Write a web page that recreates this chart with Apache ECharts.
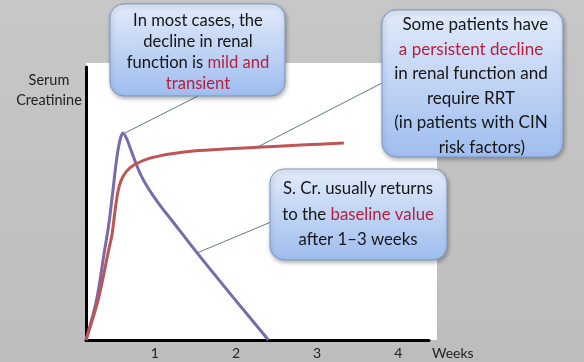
<!DOCTYPE html>
<html><head><meta charset="utf-8">
<script src="https://cdn.jsdelivr.net/npm/echarts@6/dist/echarts.min.js"></script>
<style>html,body{margin:0;padding:0;background:#c2c2c2}#main{width:584px;height:362px}</style>
</head><body><div id="main"></div>
<script>
// ---- data (weeks vs. relative serum creatinine) ----
const xTickLabels = [1, 2, 3, 4];
const transientWeeks = [0.15, 0.28, 0.38, 0.43, 0.48, 0.53, 0.57, 0.605, 0.654, 0.704, 0.765, 0.827, 0.901, 0.988, 1.086, 1.185, 1.52, 1.96, 2.40];
const transientCreat = [0, 14.7, 33.0, 42.1, 54.2, 66.7, 73.3, 75.8, 73.6, 69.6, 64.8, 60.4, 56.4, 52.4, 48.4, 44.7, 31.9, 15.8, 0];
const persistentWeeks = [0.15, 0.30, 0.43, 0.47, 0.506, 0.543, 0.58, 0.642, 0.741, 0.95, 1.36, 2.26, 2.79, 3.33];
const persistentCreat = [0, 14.7, 33.0, 38.5, 46.9, 54.2, 58.2, 61.5, 64.1, 66.7, 68.9, 70.6, 71.4, 72.2];
const yAxisTitle = ['Serum', 'Creatinine'];
const xAxisTitle = 'Weeks';
const callout1 = '{k|In most cases, the}\n{k|decline in renal}\n{k|function is }{r|mild and}\n{r|transient}';
const callout2 = '{k|  Some patients have}\n{r|a persistent decline}\n{k|in renal function and}\n{k|require RRT}\n{k|(in patients with CIN}\n{k|     risk factors)}';
const callout3 = '{k|S. Cr. usually returns}\n{k|to the }{r|baseline value}\n{k|after 1\u20133 weeks}';

const FONT = 'Lato, "Open Sans", sans-serif';
const chart = echarts.init(document.getElementById('main'), null, {renderer: 'canvas'});

function zip(a, b) { return a.map((v, i) => [v, b[i]]); }
function rich(lh, fs) {
  return {
    k: {fontSize: fs, fontFamily: FONT, fill: '#151515', lineHeight: lh},
    r: {fontSize: fs, fontFamily: FONT, fill: '#bb1d3d', lineHeight: lh}
  };
}
const boxFill = {type: 'linear', x: 0, y: 0, x2: 0, y2: 1,
  colorStops: [{offset: 0, color: '#e2ebfa'}, {offset: 1, color: '#9fbdef'}]};
function box(x, y, w, h) {
  return {type: 'rect', z: 100, shape: {x, y, width: w, height: h, r: 14},
    style: {fill: boxFill, stroke: '#7d97c2', lineWidth: 1,
      shadowBlur: 4, shadowOffsetX: 1, shadowOffsetY: 2, shadowColor: 'rgba(0,0,0,0.3)'}};
}

chart.setOption({
  backgroundColor: {type: 'linear', x: 0, y: 0, x2: 0, y2: 1,
    colorStops: [{offset: 0, color: '#c7c7c7'}, {offset: 1, color: '#bdbdbd'}]},
  animation: false,
  grid: {left: 86, right: 155, top: 67, bottom: 22},
  xAxis: {
    type: 'value', min: 0.15, max: 4.38,
    axisLine: {show: true, lineStyle: {color: '#000', width: 3}},
    axisTick: {show: false}, splitLine: {show: false},
    axisLabel: {customValues: xTickLabels, margin: 6, fontSize: 14, fontFamily: FONT, color: '#222',
      formatter: v => String(Math.round(v))},
    name: xAxisTitle, nameLocation: 'end', nameGap: 3,
    nameTextStyle: {fontSize: 14, fontFamily: FONT, color: '#222', align: 'left', verticalAlign: 'top', padding: [6, 0, 0, 0]}
  },
  yAxis: {
    type: 'value', min: 0, max: 100,
    axisLine: {show: true, onZero: false, lineStyle: {color: '#000', width: 3}},
    axisTick: {show: false}, splitLine: {show: false}, axisLabel: {show: false}
  },
  series: [
    {type: 'line', name: 'transient', data: zip(transientWeeks, transientCreat), smooth: 0.3,
      showSymbol: false, z: 3, lineStyle: {color: '#7a6aa8', width: 3}},
    {type: 'line', name: 'persistent', data: zip(persistentWeeks, persistentCreat), smooth: 0.3,
      showSymbol: false, z: 4, lineStyle: {color: '#bf5552', width: 3}}
  ]
});

function px(si, x, y) { return chart.convertToPixel({seriesIndex: si}, [x, y]); }
const peak = px(0, transientWeeks[7], transientCreat[7]);
const redPt = px(1, persistentWeeks[11], persistentCreat[11]);
const fallPt = px(0, transientWeeks[16], transientCreat[16]);
const tl = px(0, 0.15, 100), br = px(0, 4.38, 0);

chart.setOption({
  graphic: [
    {type: 'rect', z: -10, silent: true, shape: {x: tl[0], y: tl[1] - 4, width: br[0] - tl[0] + 8, height: br[1] - tl[1] + 4},
      style: {fill: '#ffffff'}},
    {type: 'text', x: 49, y: 90, z: 10, style: {text: yAxisTitle.join('\n'), align: 'center', verticalAlign: 'middle',
      fontSize: 14.5, fontFamily: FONT, fill: '#222', lineHeight: 20}},
    {type: 'line', z: 50, shape: {x1: 198, y1: 96, x2: peak[0] + 2, y2: peak[1]}, style: {stroke: '#5f7890', lineWidth: 1}},
    {type: 'line', z: 50, shape: {x1: 382, y1: 83, x2: redPt[0], y2: redPt[1]}, style: {stroke: '#5f7890', lineWidth: 1}},
    {type: 'line', z: 50, shape: {x1: 271, y1: 222, x2: fallPt[0], y2: fallPt[1]}, style: {stroke: '#5f7890', lineWidth: 1}},
    box(110, 4, 175, 92),
    {type: 'text', z: 101, x: 198, y: 52.5, style: {text: callout1, rich: rich(21, 16.6), align: 'center', verticalAlign: 'middle'}},
    box(382, 10, 181, 147),
    {type: 'text', z: 101, x: 471, y: 86, style: {text: callout2, rich: rich(24.6, 17), align: 'center', verticalAlign: 'middle'}},
    box(270, 169, 177, 91),
    {type: 'text', z: 101, x: 358, y: 214.5, style: {text: callout3, rich: rich(25.5, 16.8), align: 'center', verticalAlign: 'middle'}}
  ]
});
</script></body></html>
